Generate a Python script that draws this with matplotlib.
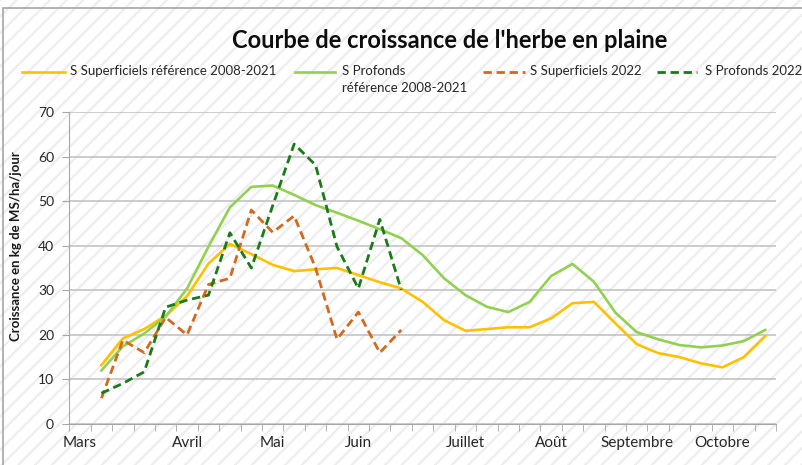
import numpy as np
import matplotlib
matplotlib.use('Agg')
import matplotlib.pyplot as plt
from matplotlib.patches import Rectangle
from matplotlib.lines import Line2D

plt.rcParams['font.family'] = ['Lato', 'DejaVu Sans']
plt.rcParams['hatch.linewidth'] = 1.6

nan = np.nan

# weekly categories, Mars -> Octobre (33 weeks)
months = ['Mars', 'Avril', 'Mai', 'Juin', 'Juillet', 'Août', 'Septembre', 'Octobre']
month_pos = [0, 5, 9, 13, 18, 22, 26, 30]

sup_ref = [nan, 13.2, 19.2, 21.3, 24.3, 28.7, 36.0, 40.4, 38.1, 35.7, 34.3, 34.7, 35.0,
           33.4, 31.8, 30.4, 27.4, 23.3, 20.9, 21.3, 21.7, 21.7, 23.7, 27.1, 27.4, 22.6,
           17.9, 15.9, 15.0, 13.6, 12.7, 15.0, 19.7]
prof_ref = [nan, 12.0, 17.4, 20.3, 24.1, 30.4, 39.8, 48.6, 53.2, 53.5, 51.4, 49.1, 47.4,
            45.6, 43.7, 41.7, 37.9, 32.7, 28.9, 26.3, 25.1, 27.4, 33.2, 35.9, 31.9, 25.0,
            20.6, 19.0, 17.7, 17.2, 17.6, 18.6, 21.1]
sup_2022 = [nan, 5.8, 18.8, 16.0, 23.9, 20.0, 31.3, 32.7, 48.0, 43.0, 46.7, 35.0, 19.0,
            25.1, 16.0, 21.1] + [nan] * 17
prof_2022 = [nan, 6.9, 9.1, 11.7, 26.2, 27.8, 28.9, 42.9, 35.0, 49.0, 62.8, 58.1, 39.8,
             30.4, 45.9, 30.1] + [nan] * 17

labels = ['S Superficiels référence 2008-2021', 'S Profonds\nréférence 2008-2021',
          'S Superficiels 2022', 'S Profonds 2022']
colors = ['#FFC000', '#92D050', '#D2691E', '#1A7A1A']
styles = ['-', '-', '--', '--']
series = [sup_ref, prof_ref, sup_2022, prof_2022]

x = np.arange(len(sup_ref))
dash = (0, (3.0, 1.7))

fig = plt.figure(figsize=(8.03, 4.65), dpi=100)

# hatched background + chart frame
fig.add_artist(Rectangle((0, 0), 1, 1, transform=fig.transFigure, facecolor='white',
                         edgecolor='#ededed', hatch='//', linewidth=0, zorder=-10))
fig.add_artist(Rectangle((3 / 803, -0.1), 1.1, 1 - 8 / 465 + 0.1, transform=fig.transFigure,
                         fill=False, edgecolor='#a6a6a6', linewidth=1.2, zorder=-5))

ax = fig.add_axes([0.0863, 0.0882, 0.880, 0.671])
ax.set_facecolor('none')

for y, c, ls in zip(series, colors, styles):
    if ls == '--':
        ax.plot(x, y, color=c, linewidth=2.0, linestyle=dash)
    else:
        ax.plot(x, y, color=c, linewidth=1.9)

ax.set_xlim(-0.5, 32.5)
ax.set_ylim(0, 70)
ax.set_yticks(range(0, 71, 10))
ax.yaxis.grid(True, color='#bfbfbf', linewidth=1.1)
ax.set_axisbelow(True)

ax.set_xticks(month_pos)
ax.set_xticklabels(months, fontsize=11, color='#262626')
ax.set_xticks(np.arange(-0.5, 33, 1), minor=True)
ax.tick_params(axis='x', which='major', length=0, pad=9)
ax.tick_params(axis='x', which='minor', length=5, color='#a6a6a6')
ax.tick_params(axis='y', length=5, color='#a6a6a6', labelsize=10, labelcolor='#262626', pad=6)

for s in ['top', 'right']:
    ax.spines[s].set_visible(False)
for s in ['left', 'bottom']:
    ax.spines[s].set_color('#a6a6a6')

ax.set_ylabel('Croissance en kg de MS/ha/jour', fontsize=9.5, fontweight='bold', color='#1a1a1a')
ax.yaxis.set_label_coords(-0.067, 0.57)

fig.text(0.56, 1 - 40 / 465, "Courbe de croissance de l'herbe en plaine", ha='center',
         va='center', fontsize=17, fontweight='bold', color='#0d0d0d')

# legend drawn by hand to keep the two-line entry aligned on its first line
leg_line_x = [(22, 65), (295, 335), (483, 525), (657, 697)]
leg_text_x = [70, 342, 530, 705]
leg_y = 72
for (x0, x1), tx, lab, c, ls in zip(leg_line_x, leg_text_x, labels, colors, styles):
    ln = Line2D([x0 / 803, x1 / 803], [1 - leg_y / 465] * 2, transform=fig.transFigure,
                color=c, linewidth=2.0 if ls == '--' else 1.9,
                linestyle=dash if ls == '--' else '-')
    fig.add_artist(ln)
    fig.text(tx / 803, 1 - (leg_y - 7) / 465, lab, ha='left', va='top', fontsize=9.5,
             color='#262626', linespacing=1.5)

fig.savefig('out.png', dpi=100)
